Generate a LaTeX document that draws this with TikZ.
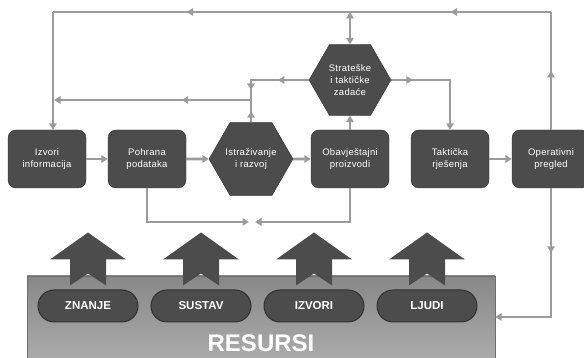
\documentclass[tikz,border=0pt]{standalone}
\usepackage{fontspec}
\setmainfont{Liberation Sans}
\newfontfamily\boxfont[LetterSpace=3]{Liberation Sans}
\usetikzlibrary{positioning, shapes.geometric, arrows.meta, decorations.markings}

\definecolor{boxgray}{RGB}{76,76,76}
\definecolor{edgegray}{RGB}{48,48,48}
\definecolor{linegray}{RGB}{155,155,155}
\definecolor{restop}{RGB}{136,136,136}
\definecolor{resbot}{RGB}{170,170,170}

\tikzset{
  box/.style={draw=edgegray, fill=boxgray, rounded corners=8pt, minimum width=78pt,
    minimum height=58pt, inner sep=1pt, align=center, text=white,
    font=\boxfont\fontsize{9.5}{12.5}\selectfont},
  hexa/.style={draw=edgegray, fill=boxgray, regular polygon, regular polygon sides=6,
    minimum size=84pt, inner sep=0pt, align=center, text=white,
    font=\boxfont\fontsize{9.5}{12}\selectfont},
  pill/.style={draw=edgegray, line width=1pt, fill=boxgray, rounded corners=16pt, minimum width=100pt,
    minimum height=32pt, inner sep=0pt, text=white, font=\fontsize{11.5}{12}\bfseries},
  resbox/.style={draw=restop!80!black, top color=restop, bottom color=resbot,
    minimum width=468pt, minimum height=82pt, inner sep=0pt},
  bigarr/.style={fill=boxgray},
  flow/.style={draw, color=linegray, line width=2.6pt},
  midarr/.style={postaction={decorate}, decoration={markings,
    mark=at position #1 with {\arrow{>}}}},
  midarr/.default=0.5
}

\begin{document}
\begin{tikzpicture}
  [x=1pt, y=1pt, on grid, node distance=100pt, >={Triangle[length=6.5pt,width=7.5pt]}]
  \useasboundingbox (0,0) rectangle (584,358);

  % resources
  \node[resbox] (r_0) at (261,41) {};
  \node[anchor=base, text=white, font=\fontsize{24}{24}\bfseries] (t_0) at (261,6) {RESURSI};
  \node[pill] (p_1) at (88,52) {ZNANJE};
  \node[pill] (p_2) [right=113pt of p_1] {SUSTAV};
  \node[pill] (p_3) [right=113pt of p_2] {IZVORI};
  \node[pill] (p_4) [right=113pt of p_3] {LJUDI};
  \fill[bigarr] (p_1.north) ++(-18,4) -- ++(0,26) -- ++(-20,0) -- ++(38,27) -- ++(38,-27) -- ++(-20,0) -- ++(0,-26) -- ++(-18,12) -- cycle;
  \fill[bigarr] (p_2.north) ++(-18,4) -- ++(0,26) -- ++(-20,0) -- ++(38,27) -- ++(38,-27) -- ++(-20,0) -- ++(0,-26) -- ++(-18,12) -- cycle;
  \fill[bigarr] (p_3.north) ++(-18,4) -- ++(0,26) -- ++(-20,0) -- ++(38,27) -- ++(38,-27) -- ++(-20,0) -- ++(0,-26) -- ++(-18,12) -- cycle;
  \fill[bigarr] (p_4.north) ++(-18,4) -- ++(0,26) -- ++(-20,0) -- ++(38,27) -- ++(38,-27) -- ++(-20,0) -- ++(0,-26) -- ++(-18,12) -- cycle;

  % process chain
  \node[box] (n_1) at (47,199) {Izvori\\informacija};
  \node[box] (n_2) [right=100pt of n_1] {Pohrana\\podataka};
  \node[hexa] (n_3) [right=104pt of n_2] {Istraživanje\\i razvoj};
  \node[box] (n_4) [right=99pt of n_3] {Obavještajni\\proizvodi};
  \node[box] (n_5) [right=100pt of n_4] {Taktička\\rješenja};
  \node[box] (n_6) [right=101pt of n_5] {Operativni\\pregled};
  \node[hexa, minimum size=82pt] (n_7) [above=79pt of n_4] {Strateške\\i taktičke\\zadaće};

  \coordinate (c_l) at (53,346);
  \coordinate (c_t) at (350,346);
  \coordinate (c_r) at (551,346);
  \coordinate (c_j) at (251,258);
  \coordinate (c_m) at (252,136);

  \draw[flow,->] (n_1) -- (n_2);
  \draw[flow,->] (n_2) -- (n_3);
  \draw[flow,->] (n_3) -- (n_4);
  \draw[flow,->] (n_5) -- (n_6);
  \draw[flow,->] (n_4) -- (n_7);
  \draw[flow,<->] (n_7) -- (c_t);
  % feedback on top
  \draw[flow,midarr] (n_6) -- (c_r);
  \draw[flow,midarr] (c_r) -- (c_t);
  \draw[flow,midarr=0.55] (c_t) -- (c_l);
  \draw[flow,->] (c_l) -- (c_l |- n_1.north);
  \draw[flow,->,shorten >=1pt,midarr=0.35] (c_j) -- (c_j -| c_l);
  \draw[flow,midarr] (n_3) -- (c_j);
  \draw[flow,postaction={decorate}, decoration={markings,
    mark=at position 31pt with {\arrow{>}}, mark=at position -10pt with {\arrow{>}}}]
    (n_7) -| (c_j);
  \draw[flow,->,midarr=0.2] (n_7) -| (n_5);
  % loop below
  \draw[flow,->,shorten >=3pt] (n_2) |- (c_m);
  \draw[flow,->,shorten >=3pt] (n_4) |- (c_m);
  \draw[flow,->,midarr=0.35] (n_6) |- (r_0);
\end{tikzpicture}
\end{document}
